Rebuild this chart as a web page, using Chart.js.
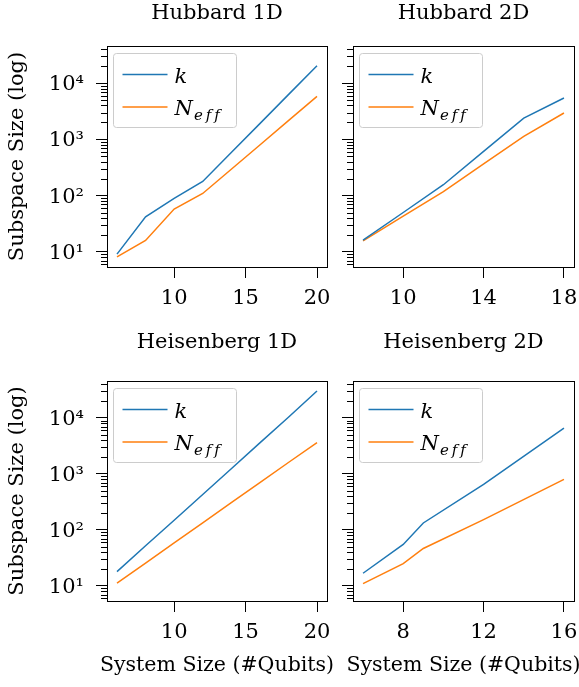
<!DOCTYPE html>
<html>
<head>
<meta charset="utf-8">
<script src="https://cdn.jsdelivr.net/npm/chart.js@4.4.0/dist/chart.umd.min.js"></script>
<style>
  html, body { margin: 0; padding: 0; background: #fff; overflow: hidden; width: 579px; height: 687px; }
  canvas { position: absolute; }
</style>
</head>
<body>
<canvas id="hub1d" style="left:0;top:0" width="340" height="320"></canvas>
<canvas id="hub2d" style="left:340px;top:0" width="260" height="320"></canvas>
<canvas id="heis1d" style="left:0;top:329px" width="340" height="358"></canvas>
<canvas id="heis2d" style="left:340px;top:329px" width="260" height="358"></canvas>
<script>
// values
const panelTitles = ['Hubbard 1D', 'Hubbard 2D', 'Heisenberg 1D', 'Heisenberg 2D'];
const seriesNames = ['k', 'N_eff'];
const xAxisTitle = 'System Size (#Qubits)';
const yAxisTitle = 'Subspace Size (log)';

const hub1dQubits = [6, 8, 10, 12, 14, 16, 18, 20];
const hub1dK      = [9.1, 42, 89, 178, 582, 1905, 6240, 20400];
const hub1dNeff   = [8.1, 15.9, 57.5, 109, 294, 795, 2150, 5800];

const hub2dQubits = [8, 10, 12, 14, 16, 18];
const hub2dK      = [16.2, 50, 156, 610, 2390, 5430];
const hub2dNeff   = [15.7, 43, 118, 365, 1127, 2940];

const heis1dQubits = [6, 8, 10, 12, 14, 16, 18, 20];
const heis1dK      = [18, 52, 149, 430, 1240, 3580, 10300, 30300];
const heis1dNeff   = [11.2, 25.6, 58.5, 134, 306, 700, 1600, 3640];

const heis2dQubits = [6, 8, 9, 12, 16];
const heis2dK      = [16.8, 55, 133, 650, 6560];
const heis2dNeff   = [11, 25, 46.5, 153, 798];

const hub1dXTicks  = [10, 15, 20];
const hub2dXTicks  = [10, 14, 18];
const heis1dXTicks = [10, 15, 20];
const heis2dXTicks = [8, 12, 16];
const yDecadeTicks = [10, 100, 1000, 10000];
const yTickLabels  = ['10¹', '10²', '10³', '10⁴'];
const yMinorFactors = [2, 3, 4, 5, 6, 7, 8, 9];

const FONT = 'DejaVu Serif';
const BLUE = '#1f77b4';
const ORANGE = '#ff7f0e';

// shared log y-range with 5% margins (like matplotlib sharey)
const allVals = [].concat(hub1dK, hub1dNeff, hub2dK, hub2dNeff, heis1dK, heis1dNeff, heis2dK, heis2dNeff);
const lMin = Math.log10(Math.min(...allVals));
const lMax = Math.log10(Math.max(...allVals));
const yMin = Math.pow(10, lMin - 0.05 * (lMax - lMin));
const yMax = Math.pow(10, lMax + 0.05 * (lMax - lMin));

const framePlugin = {
  id: 'frame',
  afterDraw(chart, args, opts) {
    const { ctx, chartArea: a, scales: { y } } = chart;
    const l = Math.round(a.left) + 0.5, t = Math.round(a.top) + 0.5;
    const r = Math.round(a.right) + 0.5, b = Math.round(a.bottom) + 0.5;
    ctx.save();
    ctx.strokeStyle = '#000';
    ctx.lineWidth = 1;
    ctx.strokeRect(l, t, r - l, b - t);
    // minor log ticks
    ctx.beginPath();
    [1].concat(yDecadeTicks).forEach(d => yMinorFactors.forEach(m => {
      const v = m * d;
      if (v < y.min || v > y.max) return;
      const py = Math.round(y.getPixelForValue(v)) + 0.5;
      ctx.moveTo(l - 6.5, py);
      ctx.lineTo(l, py);
    }));
    ctx.stroke();
    // x axis title, drawn without the width squeeze Chart.js applies
    if (opts.xTitle) {
      ctx.fillStyle = '#000';
      ctx.font = '20.5px "' + FONT + '"';
      ctx.textAlign = 'center';
      ctx.textBaseline = 'middle';
      ctx.fillText(opts.xTitle, (a.left + a.right) / 2, chart.height - 21);
    }
    ctx.restore();
  }
};

const legendPlugin = {
  id: 'subLegend',
  afterDatasetsDraw(chart) {
    const { ctx, chartArea: a } = chart;
    const bx = Math.round(a.left) + 6.5, by = Math.round(a.top) + 7.5;
    ctx.save();
    ctx.beginPath();
    ctx.roundRect(bx, by, 123, 74, 3);
    ctx.fillStyle = 'rgba(255,255,255,0.8)';
    ctx.fill();
    ctx.strokeStyle = '#cccccc';
    ctx.lineWidth = 1;
    ctx.stroke();
    chart.data.datasets.forEach((ds, i) => {
      const ly = by + 21 + i * 32.5;
      ctx.strokeStyle = ds.borderColor;
      ctx.lineWidth = 1.5;
      ctx.beginPath();
      ctx.moveTo(bx + 9, ly);
      ctx.lineTo(bx + 54, ly);
      ctx.stroke();
      const [main, sub] = ds.label.split('_');
      const tx = bx + 61;
      ctx.fillStyle = '#000';
      ctx.textBaseline = 'alphabetic';
      ctx.font = 'italic 21px "' + FONT + '"';
      ctx.fillText(main, tx, ly + 8);
      if (sub) {
        let sx = tx + ctx.measureText(main).width + 1;
        ctx.font = 'italic 15px "' + FONT + '"';
        for (const ch of sub) {
          ctx.fillText(ch, sx, ly + 12.5);
          sx += ctx.measureText(ch).width + 3;
        }
      }
    });
    ctx.restore();
  }
};

function makePanel(id, title, qubits, kVals, neffVals, xTicks, cfg) {
  const span = Math.max(...qubits) - Math.min(...qubits);
  new Chart(document.getElementById(id), {
    type: 'line',
    data: {
      datasets: [
        { label: seriesNames[0], data: qubits.map((q, i) => ({ x: q, y: kVals[i] })),
          borderColor: BLUE, borderWidth: 1.5, pointRadius: 0, tension: 0, fill: false },
        { label: seriesNames[1], data: qubits.map((q, i) => ({ x: q, y: neffVals[i] })),
          borderColor: ORANGE, borderWidth: 1.5, pointRadius: 0, tension: 0, fill: false }
      ]
    },
    options: {
      responsive: false,
      animation: false,
      devicePixelRatio: 1,
      layout: { padding: { left: 0, right: cfg.padRight, top: 0, bottom: 0 } },
      plugins: {
        legend: { display: false },
        tooltip: { enabled: false },
        frame: { xTitle: cfg.xLabel ? xAxisTitle : null },
        title: {
          display: true, text: title, fullSize: false, color: '#000',
          font: { family: FONT, size: 21, weight: 'normal' },
          padding: { top: cfg.titleTop, bottom: cfg.titleBottom }
        }
      },
      scales: {
        x: {
          type: 'linear',
          min: Math.min(...qubits) - 0.05 * span,
          max: Math.max(...qubits) + 0.05 * span,
          afterBuildTicks: s => { s.ticks = xTicks.map(v => ({ value: v })); },
          afterFit: s => { s.height = cfg.axisH; },
          border: { display: false },
          grid: { display: true, drawOnChartArea: false, drawTicks: true, tickLength: 11, tickColor: '#000', tickWidth: 1 },
          ticks: { color: '#000', font: { family: FONT, size: 21 }, padding: 7.5, maxRotation: 0, autoSkip: false }
        },
        y: {
          type: 'logarithmic',
          min: yMin,
          max: yMax,
          afterBuildTicks: s => { s.ticks = yDecadeTicks.map(v => ({ value: v })); },
          afterFit: s => { s.width = cfg.axisW; },
          border: { display: false },
          grid: { display: true, drawOnChartArea: false, drawTicks: true, tickLength: 11, tickColor: '#000', tickWidth: 1 },
          ticks: {
            display: cfg.yLabel, color: '#000', font: { family: FONT, size: 21 },
            padding: 12, labelOffset: 1.5, autoSkip: false,
            callback: (v, i) => yTickLabels[i]
          },
          title: {
            display: cfg.yLabel, text: yAxisTitle, color: '#000',
            font: { family: FONT, size: 21 }, padding: { top: 5.3, bottom: 0 }
          }
        }
      }
    },
    plugins: [framePlugin, legendPlugin]
  });
}

const topRow = { titleTop: 0.9, titleBottom: 19.9, axisH: 53, xLabel: false };
const bottomRow = { titleTop: 0.5, titleBottom: 26.3, axisH: 86, xLabel: true };
const leftCol = { axisW: 107, padRight: 13, yLabel: true };
const rightCol = { axisW: 13, padRight: 26, yLabel: false };

makePanel('hub1d', panelTitles[0], hub1dQubits, hub1dK, hub1dNeff, hub1dXTicks, Object.assign({}, topRow, leftCol));
makePanel('hub2d', panelTitles[1], hub2dQubits, hub2dK, hub2dNeff, hub2dXTicks, Object.assign({}, topRow, rightCol));
makePanel('heis1d', panelTitles[2], heis1dQubits, heis1dK, heis1dNeff, heis1dXTicks, Object.assign({}, bottomRow, leftCol));
makePanel('heis2d', panelTitles[3], heis2dQubits, heis2dK, heis2dNeff, heis2dXTicks, Object.assign({}, bottomRow, rightCol));
</script>
</body>
</html>
